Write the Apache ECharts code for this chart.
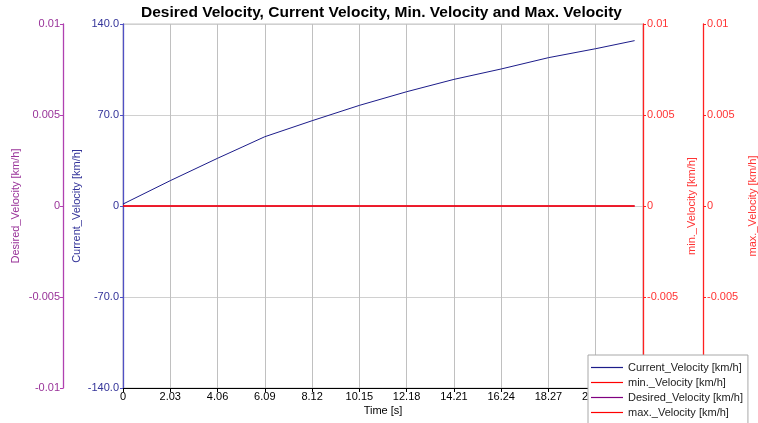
<!DOCTYPE html>
<html>
<head>
<meta charset="utf-8">
<script src="https://cdn.jsdelivr.net/npm/echarts@6/dist/echarts.min.js"></script>
<style>
html,body{margin:0;padding:0;background:#fff;}
#chart{width:758px;height:423px;}
</style>
</head>
<body>
<div id="chart"></div>
<script>
// Data
const timeS = [0, 2.03, 4.06, 5.15, 6.09, 8.12, 10.15, 12.18, 14.21, 16.24, 18.27, 20.30, 21.97];
const currentVelocity = [1.5, 19.5, 36.7, 45.6, 53.3, 65.6, 77.4, 87.9, 97.4, 105.4, 114.1, 121.0, 127.2];
const minVelocity = [0, 0, 0, 0, 0, 0, 0, 0, 0, 0, 0, 0, 0];
const desiredVelocity = [0, 0, 0, 0, 0, 0, 0, 0, 0, 0, 0, 0, 0];
const maxVelocity = [0, 0, 0, 0, 0, 0, 0, 0, 0, 0, 0, 0, 0];
const legendNames = ['Current_Velocity [km/h]', 'min._Velocity [km/h]', 'Desired_Velocity [km/h]', 'max._Velocity [km/h]'];

const FONT = '"Liberation Sans", Arial, sans-serif';
const pair = (xs, ys) => xs.map((x, i) => [x, ys[i]]);
const smallFmt = v => String(+(+v).toFixed(3));

function yAx(opts) {
  return Object.assign({
    type: 'value',
    nameLocation: 'middle',
    nameMoveOverlap: false,
    splitLine: { show: false }
  }, opts);
}

const chart = echarts.init(document.getElementById('chart'), null, { renderer: 'canvas' });
chart.setOption({
  animation: false,
  backgroundColor: '#ffffff',
  title: {
    text: 'Desired Velocity, Current Velocity, Min. Velocity and Max. Velocity',
    left: 136,
    top: 0,
    textStyle: { fontFamily: FONT, fontSize: 15.5, fontWeight: 'bold', color: '#000' }
  },
  grid: {
    left: 123, right: 115, top: 24, bottom: 35,
    containLabel: false,
    outerBoundsMode: 'none',
    show: true, borderColor: '#c4c4c4', borderWidth: 1
  },
  legend: {
    data: legendNames,
    orient: 'vertical',
    left: 588,
    top: 355,
    width: 160,
    height: 66,
    padding: [6, 5, 6, 3],
    icon: 'rect',
    itemWidth: 32,
    itemHeight: 1.2,
    itemGap: 2,
    backgroundColor: '#ffffff',
    borderColor: '#a8a8a8',
    borderWidth: 1,
    borderRadius: 0,
    textStyle: { fontFamily: FONT, fontSize: 11, color: '#222', lineHeight: 13 },
    z: 20
  },
  xAxis: {
    type: 'value',
    min: 0,
    max: 22.33,
    interval: 2.03,
    name: 'Time [s]',
    nameLocation: 'middle',
    nameMoveOverlap: false,
    nameGap: 17,
    nameTextStyle: { fontFamily: FONT, fontSize: 11, color: '#000' },
    axisLine: { show: true, onZero: false, lineStyle: { color: '#000', width: 1 } },
    axisTick: { show: true, length: 4, lineStyle: { color: '#000' } },
    axisLabel: {
      fontFamily: FONT, fontSize: 11, color: '#000', margin: 3,
      formatter: v => (Math.abs(v) < 1e-9 ? '0' : (+v).toFixed(2))
    },
    splitLine: { show: true, lineStyle: { color: '#c0c0c0', width: 1 } }
  },
  yAxis: [
    yAx({
      name: 'Current_Velocity [km/h]', position: 'left', offset: 0,
      min: -140, max: 140, interval: 70, nameGap: 41,
      nameTextStyle: { fontFamily: FONT, fontSize: 11, color: '#333399' },
      axisLine: { show: true, onZero: false, lineStyle: { color: '#5050c4', width: 1.3 } },
      axisTick: { show: true, length: 3, lineStyle: { color: '#5050c4' } },
      axisLabel: { fontFamily: FONT, fontSize: 11, margin: 4, color: '#333399',
        formatter: v => (v === 0 ? '0' : (+v).toFixed(1)) },
      splitLine: { show: true, lineStyle: { color: '#d0d0d0', width: 1 } }
    }),
    yAx({
      name: 'Desired_Velocity [km/h]', position: 'left', offset: 60,
      min: -0.01, max: 0.01, interval: 0.005, nameGap: 42,
      nameTextStyle: { fontFamily: FONT, fontSize: 11, color: '#993399' },
      axisLine: { show: true, onZero: false, lineStyle: { color: '#b040b0', width: 1.3 } },
      axisTick: { show: true, length: 3, lineStyle: { color: '#b040b0' } },
      axisLabel: { fontFamily: FONT, fontSize: 11, margin: 3, color: '#993399', formatter: smallFmt }
    }),
    yAx({
      name: 'min._Velocity [km/h]', position: 'right', offset: 0,
      min: -0.01, max: 0.01, interval: 0.005, nameGap: 43,
      nameTextStyle: { fontFamily: FONT, fontSize: 11, color: '#ff3333' },
      axisLine: { show: true, onZero: false, lineStyle: { color: '#ff2020', width: 1.3 } },
      axisTick: { show: true, length: 3, lineStyle: { color: '#ff2020' } },
      axisLabel: { fontFamily: FONT, fontSize: 11, margin: 4, color: '#ff3333', formatter: smallFmt }
    }),
    yAx({
      name: 'max._Velocity [km/h]', position: 'right', offset: 60,
      min: -0.01, max: 0.01, interval: 0.005, nameGap: 44,
      nameTextStyle: { fontFamily: FONT, fontSize: 11, color: '#ff3333' },
      axisLine: { show: true, onZero: false, lineStyle: { color: '#ff2020', width: 1.3 } },
      axisTick: { show: true, length: 3, lineStyle: { color: '#ff2020' } },
      axisLabel: { fontFamily: FONT, fontSize: 11, margin: 4, color: '#ff3333', formatter: smallFmt }
    })
  ],
  series: [
    {
      name: 'Desired_Velocity [km/h]', type: 'line', yAxisIndex: 1,
      data: pair(timeS, desiredVelocity), symbol: 'none',
      lineStyle: { color: '#800080', width: 1 }, itemStyle: { color: '#800080' }
    },
    {
      name: 'Current_Velocity [km/h]', type: 'line', yAxisIndex: 0,
      data: pair(timeS, currentVelocity), symbol: 'none',
      lineStyle: { color: '#1c1c8a', width: 1 }, itemStyle: { color: '#1c1c8a' }
    },
    {
      name: 'max._Velocity [km/h]', type: 'line', yAxisIndex: 3,
      data: pair(timeS, maxVelocity), symbol: 'none',
      lineStyle: { color: '#ff0000', width: 1 }, itemStyle: { color: '#ff0000' }
    },
    {
      name: 'min._Velocity [km/h]', type: 'line', yAxisIndex: 2,
      data: pair(timeS, minVelocity), symbol: 'none',
      lineStyle: { color: '#ff0000', width: 1 }, itemStyle: { color: '#ff0000' }
    }
  ]
});
</script>
</body>
</html>
